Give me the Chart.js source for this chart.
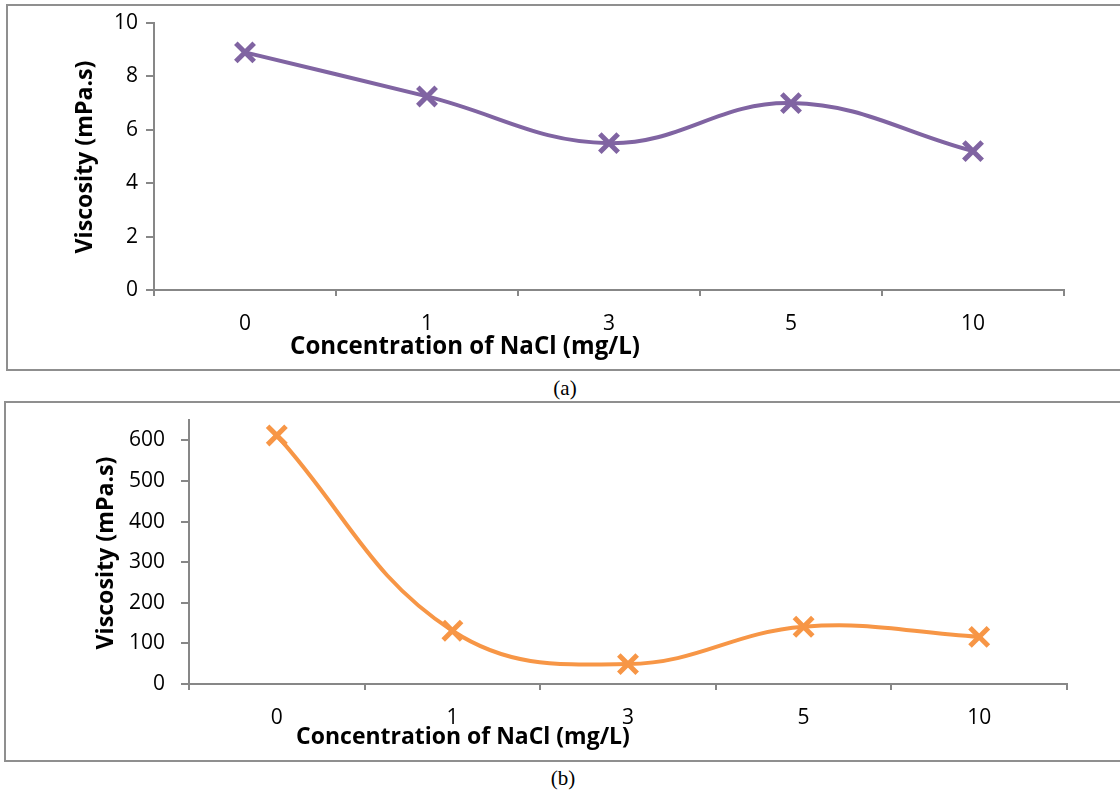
<!DOCTYPE html>
<html><head><meta charset="utf-8">
<script src="https://cdn.jsdelivr.net/npm/chart.js@4.4.0/dist/chart.umd.min.js"></script>
<style>
html,body{margin:0;padding:0;background:#fff;width:1120px;height:795px;overflow:hidden;position:relative;}
.box{position:absolute;border:2px solid #8f8f8f;box-sizing:border-box;}
canvas{position:absolute;display:block;}
.cap{position:absolute;font-family:"Liberation Serif","Times New Roman",serif;font-size:21px;color:#000;transform:translate(-50%,-50%);white-space:nowrap;}
</style></head><body>
<div class="box" style="left:6px;top:4px;width:1120px;height:367px;"></div>
<canvas id="cA" width="1113" height="366" style="left:6px;top:4px;"></canvas>
<div class="cap" style="left:565px;top:388px;">(a)</div>
<div class="box" style="left:4px;top:401px;width:1122px;height:361px;"></div>
<canvas id="cB" width="1115" height="360" style="left:4px;top:401px;"></canvas>
<div class="cap" style="left:563px;top:778px;">(b)</div>
<script>
const categories = ['0', '1', '3', '5', '10'];
const viscosityA = [8.9, 7.25, 5.5, 7.0, 5.2];
const viscosityB = [612, 131, 49, 141, 116];
const yTitle = 'Viscosity (mPa.s)';
const xTitle = 'Concentration of NaCl (mg/L)';

const FONT = '"Open Sans", "Liberation Sans", sans-serif';
const AXIS = '#878787';
const TICKSIZE = 21;

function fitFont(ctx, text, target) {
  ctx.font = 'bold 100px ' + FONT;
  const w = ctx.measureText(text).width;
  return 100 * target / w;
}

const titlePlugin = {
  id: 'titles',
  afterDraw(chart, args, o) {
    const ctx = chart.ctx;
    ctx.save();
    ctx.fillStyle = '#000';
    ctx.textAlign = 'center';
    ctx.textBaseline = 'middle';
    let s = fitFont(ctx, o.xText, o.xWidth);
    ctx.font = 'bold ' + s + 'px ' + FONT;
    ctx.fillText(o.xText, o.xPos[0], o.xPos[1]);
    s = fitFont(ctx, o.yText, o.yWidth);
    ctx.font = 'bold ' + s + 'px ' + FONT;
    ctx.translate(o.yPos[0], o.yPos[1]);
    ctx.rotate(-Math.PI / 2);
    ctx.fillText(o.yText, 0, 0);
    ctx.restore();
  }
};

function makeChart(id, data, color, yopts, pad, titles) {
  return new Chart(document.getElementById(id), {
    type: 'line',
    data: {
      labels: categories,
      datasets: [{
        data: data,
        borderColor: color,
        backgroundColor: color,
        borderWidth: 4,
        tension: 0.4,
        pointStyle: 'crossRot',
        pointRadius: 13,
        pointHoverRadius: 13,
        pointBorderWidth: 5,
        pointBorderColor: color,
        fill: false
      }]
    },
    options: {
      responsive: false,
      animation: false,
      events: [],
      layout: { padding: pad },
      plugins: { legend: { display: false }, tooltip: { enabled: false }, titles: titles },
      scales: {
        x: {
          type: 'category',
          offset: true,
          afterFit: s => { s.height = 60; s.paddingLeft = 0; s.paddingRight = 0; },
          grid: { offset: true, drawOnChartArea: false, drawTicks: true, tickLength: 6, color: AXIS, lineWidth: 2 },
          border: { display: true, color: AXIS, width: 2 },
          ticks: { color: '#000', font: { family: FONT, size: TICKSIZE }, padding: 15, maxRotation: 0 }
        },
        y: Object.assign({
          afterFit: s => { s.width = 100; s.paddingTop = 0; s.paddingBottom = 0; },
          grid: { drawOnChartArea: false, drawTicks: true, tickLength: 8, color: AXIS, lineWidth: 2 },
          border: { display: true, color: AXIS, width: 2 }
        }, yopts)
      }
    },
    plugins: [titlePlugin]
  });
}

makeChart('cA', viscosityA, '#8064A2',
  { min: 0, max: 10, ticks: { stepSize: 2, color: '#000', font: { family: FONT, size: TICKSIZE }, padding: 8 } },
  { left: 48, right: 55, top: 19, bottom: 20 },
  { xText: xTitle, xWidth: 350, xPos: [459, 343], yText: yTitle, yWidth: 193, yPos: [79, 153] });

makeChart('cB', viscosityB, '#F79646',
  { min: 0, max: 650,
    afterBuildTicks: s => { s.ticks = s.ticks.filter(t => t.value <= 600); },
    ticks: { stepSize: 100, includeBounds: false, color: '#000', font: { family: FONT, size: TICKSIZE }, padding: 16 } },
  { left: 85, right: 52, top: 19, bottom: 17 },
  { xText: xTitle, xWidth: 334, xPos: [459, 336], yText: yTitle, yWidth: 193, yPos: [102, 152] });
</script>
</body></html>
